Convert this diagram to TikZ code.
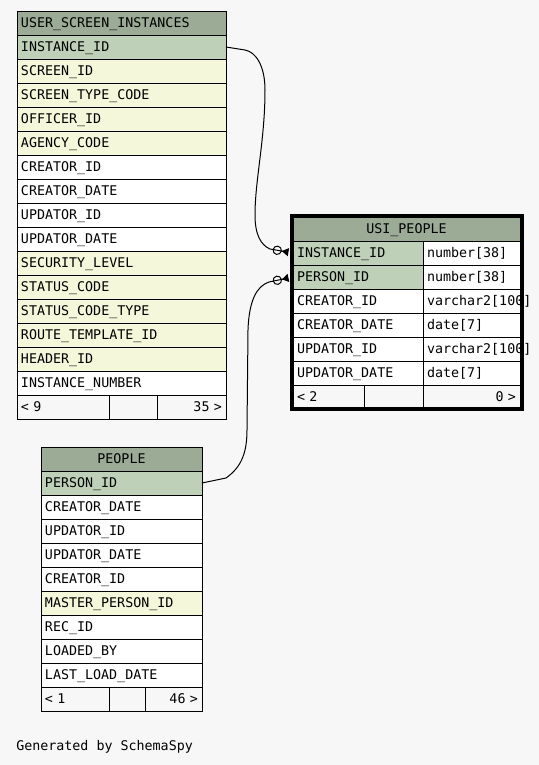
\documentclass[tikz,border=0pt]{standalone}
\usepackage{fontspec}
\setmonofont{DejaVu Sans Mono}
\usepackage{tikz}
\usetikzlibrary{arrows.meta}

\definecolor{bgpaper}{HTML}{F7F7F7}
\definecolor{hdrgreen}{HTML}{9BAB96}
\definecolor{pkgreen}{HTML}{BED1B8}
\definecolor{fkyellow}{HTML}{F4F7DA}

\tikzset{
  cell/.style={draw,line width=0.75pt,rectangle,anchor=north west,outer sep=0pt,
    inner xsep=3pt,inner ysep=0pt,minimum height=18pt,text height=7.3pt,text depth=0pt,
    align=left,font=\ttfamily\fontsize{10pt}{12pt}\selectfont},
  hdr/.style={cell,fill=hdrgreen},
  pkrow/.style={cell,fill=pkgreen},
  fkrow/.style={cell,fill=fkyellow},
  plainrow/.style={cell,fill=white},
  footrow/.style={cell,fill=bgpaper},
  fkline/.style={line width=0.75pt,shorten >=3.5pt,
    -{Circle[open,length=7pt,width=7pt]Triangle[reversed,length=5pt,width=6pt]}},
}

\begin{document}
\begin{tikzpicture}[x=0.75pt,y=-0.75pt]
 \fill[bgpaper] (0,0) rectangle (539,765);
 \useasboundingbox (0,0) rectangle (539,765);

 % USER_SCREEN_INSTANCES
 \node[hdr,text width=150.75pt] (inst-hdr) at (17,11) {USER\_SCREEN\_INSTANCES};
 \node[pkrow,text width=150.75pt] (inst-id) at (17,35) {INSTANCE\_ID};
 \node[fkrow,text width=150.75pt] (inst-screen) at (17,59) {SCREEN\_ID};
 \node[fkrow,text width=150.75pt] (inst-stype) at (17,83) {SCREEN\_TYPE\_CODE};
 \node[fkrow,text width=150.75pt] (inst-officer) at (17,107) {OFFICER\_ID};
 \node[fkrow,text width=150.75pt] (inst-agency) at (17,131) {AGENCY\_CODE};
 \node[plainrow,text width=150.75pt] (inst-cid) at (17,155) {CREATOR\_ID};
 \node[plainrow,text width=150.75pt] (inst-cdate) at (17,179) {CREATOR\_DATE};
 \node[plainrow,text width=150.75pt] (inst-uid) at (17,203) {UPDATOR\_ID};
 \node[plainrow,text width=150.75pt] (inst-udate) at (17,227) {UPDATOR\_DATE};
 \node[fkrow,text width=150.75pt] (inst-sec) at (17,251) {SECURITY\_LEVEL};
 \node[fkrow,text width=150.75pt] (inst-status) at (17,275) {STATUS\_CODE};
 \node[fkrow,text width=150.75pt] (inst-stattype) at (17,299) {STATUS\_CODE\_TYPE};
 \node[fkrow,text width=150.75pt] (inst-route) at (17,323) {ROUTE\_TEMPLATE\_ID};
 \node[fkrow,text width=150.75pt] (inst-header) at (17,347) {HEADER\_ID};
 \node[plainrow,text width=150.75pt] (inst-num) at (17,371) {INSTANCE\_NUMBER};
 \node[footrow,text width=63pt] (inst-fl) at (17,395) {< 9};
 \node[footrow,text width=30pt] (inst-fm) at (109,395) {};
 \node[footrow,text width=45.75pt,align=right] (inst-fr) at (157,395) {35 >};

 % USI_PEOPLE
 \node[hdr,text width=164.25pt,align=center] (usip-hdr) at (293,217) {USI\_PEOPLE};
 \node[pkrow,text width=91.5pt] (usip-iid) at (293,241) {INSTANCE\_ID};
 \node[plainrow,text width=66.75pt] (usip-iid-t) at (423,241) {number[38]};
 \node[pkrow,text width=91.5pt] (usip-pid) at (293,265) {PERSON\_ID};
 \node[plainrow,text width=66.75pt] (usip-pid-t) at (423,265) {number[38]};
 \node[plainrow,text width=91.5pt] (usip-cid) at (293,289) {CREATOR\_ID};
 \node[plainrow,text width=66.75pt] (usip-cid-t) at (423,289) {varchar2[100]};
 \node[plainrow,text width=91.5pt] (usip-cdate) at (293,313) {CREATOR\_DATE};
 \node[plainrow,text width=66.75pt] (usip-cdate-t) at (423,313) {date[7]};
 \node[plainrow,text width=91.5pt] (usip-uid) at (293,337) {UPDATOR\_ID};
 \node[plainrow,text width=66.75pt] (usip-uid-t) at (423,337) {varchar2[100]};
 \node[plainrow,text width=91.5pt] (usip-udate) at (293,361) {UPDATOR\_DATE};
 \node[plainrow,text width=66.75pt] (usip-udate-t) at (423,361) {date[7]};
 \node[footrow,text width=47.25pt] (usip-fl) at (293,385) {< 2};
 \node[footrow,text width=38.25pt] (usip-fm) at (364,385) {};
 \node[footrow,text width=66.75pt,align=right] (usip-fr) at (423,385) {0 >};
 \draw[line width=3pt] (291.7,215.7) rectangle (522,408.7);

 % PEOPLE
 \node[hdr,text width=114.75pt,align=center] (ppl-hdr) at (41,447) {PEOPLE};
 \node[pkrow,text width=114.75pt] (ppl-pid) at (41,471) {PERSON\_ID};
 \node[plainrow,text width=114.75pt] (ppl-cdate) at (41,495) {CREATOR\_DATE};
 \node[plainrow,text width=114.75pt] (ppl-uid) at (41,519) {UPDATOR\_ID};
 \node[plainrow,text width=114.75pt] (ppl-udate) at (41,543) {UPDATOR\_DATE};
 \node[plainrow,text width=114.75pt] (ppl-cid) at (41,567) {CREATOR\_ID};
 \node[fkrow,text width=114.75pt] (ppl-master) at (41,591) {MASTER\_PERSON\_ID};
 \node[plainrow,text width=114.75pt] (ppl-rec) at (41,615) {REC\_ID};
 \node[plainrow,text width=114.75pt] (ppl-loaded) at (41,639) {LOADED\_BY};
 \node[plainrow,text width=114.75pt] (ppl-last) at (41,663) {LAST\_LOAD\_DATE};
 \node[footrow,text width=45pt] (ppl-fl) at (41,687) {< 1};
 \node[footrow,text width=21pt] (ppl-fm) at (109,687) {};
 \node[footrow,text width=36.75pt,align=right] (ppl-fr) at (145,687) {46 >};

 % foreign keys
 \draw[fkline] (inst-id.east) -- (245,50) .. controls (256,52) and (265,66) .. (265,90)
   .. controls (265,140) and (255,180) .. (255,215)
   .. controls (255,235) and (261,245) .. (270,249) -- (usip-iid.west);
 \draw[fkline] (ppl-pid.east) -- (226,478) .. controls (240,468) and (247,455) .. (247,430)
   -- (248,330) .. controls (249,300) and (257,286) .. (269,282) -- (usip-pid.west);

 \node[anchor=base west,inner sep=0pt,font=\ttfamily\fontsize{10pt}{12pt}\selectfont] (credit)
   at (16,750) {Generated by SchemaSpy};
\end{tikzpicture}
\end{document}
